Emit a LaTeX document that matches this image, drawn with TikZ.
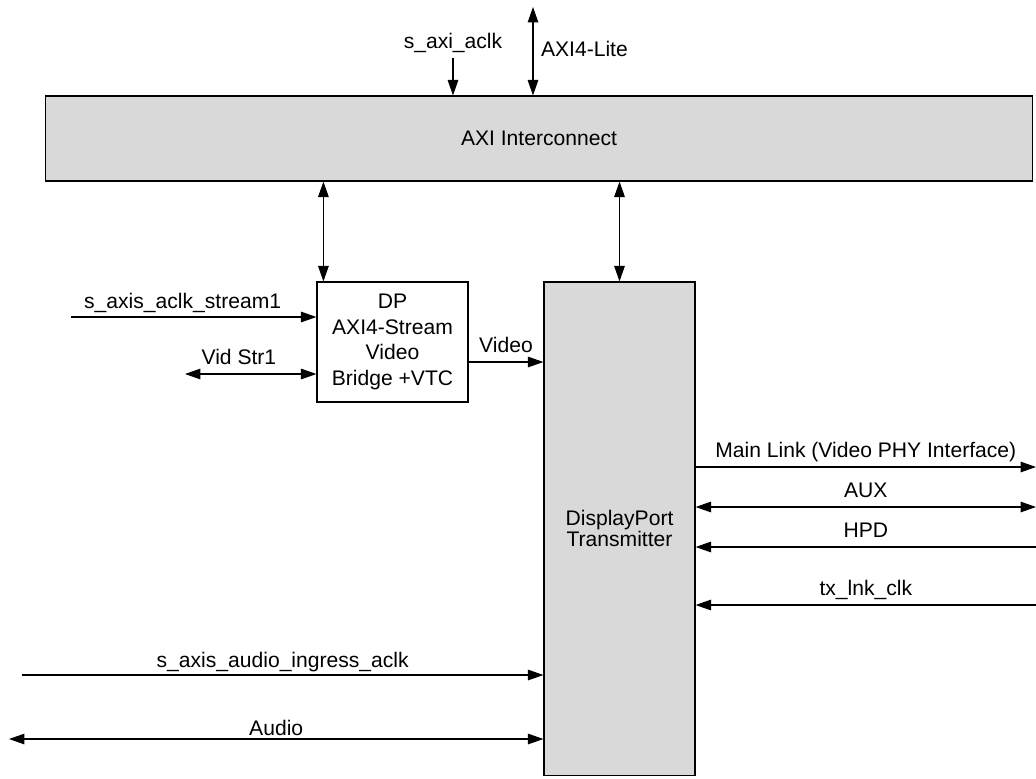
\documentclass[tikz,border=0pt]{standalone}
\usepackage{fontspec}
\setmainfont{Liberation Sans}
\usetikzlibrary{arrows.meta}

\begin{document}
\begin{tikzpicture}[x=0.025cm, y=-0.025cm,
    font=\fontsize{15}{17}\selectfont,
    sig/.style={line width=0.8pt, -{Triangle[length=11pt, width=7.5pt]}},
    bisig/.style={line width=0.8pt, {Triangle[length=11pt, width=7.5pt]}-{Triangle[length=11pt, width=7.5pt]}},
    block/.style={draw, line width=0.8pt, fill=gray!30, inner sep=0pt, align=center},
    lbl/.style={above, inner sep=0pt, text depth=0pt, yshift=6.6pt}]
    \useasboundingbox (0, 0) rectangle (1036, 778);

    % Blocks
    \node[block, minimum width=24.65cm, minimum height=2.125cm] (axi) at (539, 138.5) {AXI Interconnect};
    \node[block, fill=white, minimum width=3.775cm, minimum height=3cm,
          font=\fontsize{15}{18.2}\selectfont] (bridge) at (392.5, 342) {DP\\AXI4-Stream\\Video\\Bridge +VTC};
    \node[block, minimum width=3.775cm, minimum height=12.325cm,
          font=\fontsize{15}{15}\selectfont] (dptx) at (619.5, 528.5) {DisplayPort\\Transmitter};

    % Clock and control into the interconnect
    \node (aclklbl) at (453, 43) {s\_axi\_aclk};
    \draw[sig] (aclklbl.south) -- (aclklbl.south |- axi.north);
    \coordinate (lite) at (533, 7);
    \draw[bisig] (lite) -- node[right, pos=0.48, xshift=2pt] {AXI4-Lite} (lite |- axi.north);

    % Interconnect to the two blocks
    \path (bridge.north west) ++(7, 0) coordinate (bup);
    \draw[bisig] (axi.south -| bup) -- (bup);
    \draw[bisig] (axi.south -| dptx.north) -- (dptx.north);

    % Video stream inputs
    \coordinate (strclk) at (71, 317);
    \draw[sig] (strclk) -- node[lbl, pos=0.455, yshift=-1.2pt] {s\_axis\_aclk\_stream1} (strclk -| bridge.west);
    \coordinate (vidstr) at (185, 374);
    \draw[bisig] (vidstr) -- node[lbl, pos=0.41] {Vid Str1} (vidstr -| bridge.west);
    \path (bridge.east) ++(0, 20) coordinate (vidout);
    \draw[sig] (vidout) -- node[lbl] {Video} (vidout -| dptx.west);

    % Link side
    \coordinate (mainlink) at (1036, 467);
    \coordinate (aux) at (1036, 507);
    \coordinate (hpd) at (1036, 547);
    \coordinate (lnkclk) at (1036, 605);
    \draw[sig] (mainlink -| dptx.east) -- node[lbl] {Main Link (Video PHY Interface)} (mainlink);
    \draw[bisig] (aux -| dptx.east) -- node[lbl] {AUX} (aux);
    \draw[sig] (hpd) -- node[lbl] {HPD} (hpd -| dptx.east);
    \draw[sig] (lnkclk) -- node[lbl] {tx\_lnk\_clk} (lnkclk -| dptx.east);

    % Audio inputs
    \coordinate (audclk) at (22, 675);
    \draw[sig] (audclk) -- node[lbl, yshift=-2pt] {s\_axis\_audio\_ingress\_aclk} (audclk -| dptx.west);
    \coordinate (audio) at (9, 739);
    \draw[bisig] (audio) -- node[lbl, yshift=-4.2pt] {Audio} (audio -| dptx.west);
\end{tikzpicture}
\end{document}
